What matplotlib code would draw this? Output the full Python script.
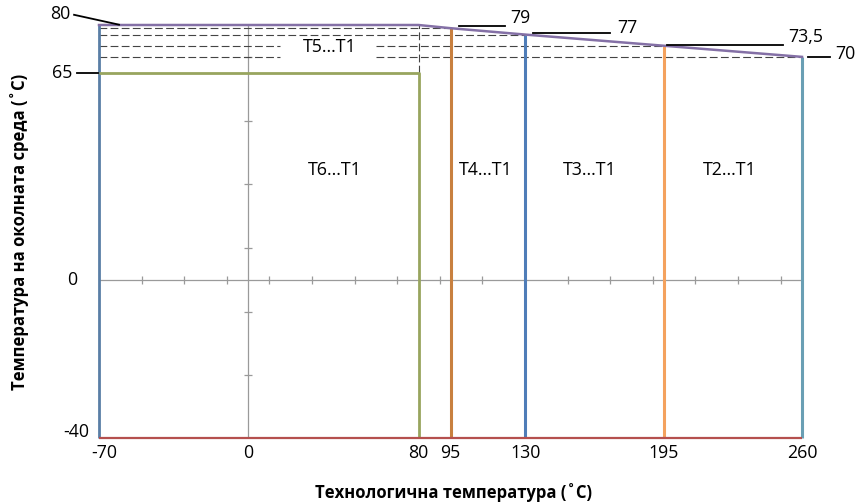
import numpy as np
import matplotlib
matplotlib.use("Agg")
import matplotlib.pyplot as plt

plt.rcParams['font.family'] = ['Open Sans', 'DejaVu Sans']

# ---------------- data ----------------
x_min, x_max = -70, 260          # process temperature range
y_min, y_max = -40, 80           # ambient temperature range
t6_x, t6_top = 80, 65            # T6 zone limits
zone_x = [95, 130, 195, 260]     # process temperature limits of T4, T3, T2 ...
zone_top = [79, 77, 73.5, 70]    # max ambient temperature for each limit
zone_colors = ["#c8803f", "#4f7db8", "#f4a25e", "#6a9fb4"]
slope_x = [-70, 80, 95, 130, 195, 260]
slope_y = [80, 80, 79, 77, 73.5, 70]
x_tick_values = [-70, 0, 80, 95, 130, 195, 260]
x_tick_labels = ["-70", "0", "80", "95", "130", "195", "260"]
grid_x_ticks = [-50, -30, -10, 10, 30, 50, 70, 90, 110, 150, 170, 190, 210, 230, 250]
grid_y_ticks = [70, 50, 30, 10, -8, -24]
value_labels = ["79", "77", "73,5", "70"]
zone_names = ["T6...T1", "T5...T1", "T4...T1", "T3...T1", "T2...T1"]

# piecewise vertical scale: negative range is stretched
K = 1.239
def fwd(y):
    y = np.asarray(y, dtype=float)
    return np.where(y < 0, y * K, y)
def inv(y):
    y = np.asarray(y, dtype=float)
    return np.where(y < 0, y / K, y)

fig = plt.figure(figsize=(8.64, 5.04), dpi=100)
W, H = 864, 504
ax = fig.add_axes([99 / W, (H - 438) / H, (802 - 99) / W, (438 - 25) / H])
ax.set_yscale('function', functions=(fwd, inv))
ax.set_xlim(x_min, x_max)
ax.set_ylim(y_min, y_max)
for s in ax.spines.values():
    s.set_visible(False)
fs = 12.8
ax.set_yticks([])
ax.set_xticks(x_tick_values)
ax.set_xticklabels(x_tick_labels, fontsize=fs)
ax.tick_params(axis='x', length=0, pad=4)
ax.yaxis.set_minor_locator(matplotlib.ticker.NullLocator())
ax.xaxis.set_minor_locator(matplotlib.ticker.NullLocator())
# the leftmost label sits slightly right of its line in the original
lbl0 = ax.get_xticklabels()[0]
lbl0.set_transform(lbl0.get_transform() + matplotlib.transforms.ScaledTranslation(5 / 100, 0, fig.dpi_scale_trans))

gray = "#9a9a9a"
kw = dict(clip_on=False, solid_capstyle='butt')
# crosshair axes
ax.plot([x_min, x_max], [0, 0], color=gray, lw=0.9, zorder=1, **kw)
ax.plot([0, 0], [y_min, y_max], color=gray, lw=0.9, zorder=1, **kw)
ax.plot(grid_x_ticks, [0] * len(grid_x_ticks), ls='none', marker='|',
        ms=6, mew=0.9, color=gray, zorder=1, clip_on=False)
ax.plot([0] * len(grid_y_ticks), grid_y_ticks, ls='none', marker='_',
        ms=6, mew=0.9, color=gray, zorder=1, clip_on=False)

# dashed guide lines
dkw = dict(color="#444444", lw=0.8, ls=(0, (7, 3)), zorder=2, clip_on=False)
gap_l, gap_r = 15, 60
ax.plot([x_min, zone_x[0]], [zone_top[0]] * 2, **dkw)
ax.plot([x_min, zone_x[1]], [zone_top[1]] * 2, **dkw)
for xe, yv in zip(zone_x[2:], zone_top[2:]):
    ax.plot([x_min, gap_l], [yv, yv], **dkw)
    ax.plot([gap_r, xe], [yv, yv], **dkw)
ax.plot([t6_x, t6_x], [t6_top, y_max], **dkw)

# coloured limits
ax.plot([x_min, x_min], [y_min, y_max], color="#5a7ea6", lw=2.0, zorder=4, **kw)
ax.plot([x_min, t6_x, t6_x], [t6_top, t6_top, y_min], color="#98a55e", lw=2.0, zorder=4, **kw)
for xv, yt, c in zip(zone_x, zone_top, zone_colors):
    ax.plot([xv, xv], [y_min, yt], color=c, lw=2.2, zorder=4, **kw)
ax.plot([x_min, x_max], [y_min, y_min], color="#b5504e", lw=1.6, zorder=5, **kw)
ax.plot(slope_x, slope_y, color="#8470a6", lw=1.8, zorder=5, clip_on=False)

# annotations
lk = dict(color="black", lw=1.3, clip_on=False, zorder=6)
ax.plot([-81.7, -60.6], [83.2, 80.1], **lk)
ax.text(-88.3, 83.3, str(y_max), ha='center', va='center', fontsize=fs)
ax.plot([-80.3, -70.5], [t6_top, t6_top], **lk)
ax.text(-87.4, t6_top, str(t6_top), ha='center', va='center', fontsize=fs)
ax.text(-82.7, 0, "0", ha='center', va='center', fontsize=fs)
ax.text(-80.8, -38.4, str(y_min), ha='center', va='center', fontsize=fs)

lead = [(99, 120.6, 79.6), (133.7, 169.9, 77.4), (196.6, 251.1, 73.8), (262.8, 273.1, 70.1)]
txt = [(127.6, 82.3), (177.9, 79.2), (261.9, 76.1), (280.2, 71.0)]
for (x0, x1, yy), (tx, ty), lab in zip(lead, txt, value_labels):
    ax.plot([x0, x1], [yy, yy], **lk)
    ax.text(tx, ty, lab, ha='center', va='center', fontsize=fs)

zone_pos = [(40.8, 34.4), (38.4, 73.0), (111.7, 34.4), (160.5, 34.4), (226.2, 34.4)]
for (zx, zy), name in zip(zone_pos, zone_names):
    ax.text(zx, zy, name, ha='center', va='center', fontsize=fs)

fig.text(454 / W, 1 - 493 / H, "Технологична температура (˚C)", ha='center', va='center',
         fontsize=12, fontweight='bold')
fig.text(20 / W, 1 - 232 / H, "Температура на околната среда (˚C)", ha='center', va='center',
         fontsize=12, fontweight='bold', rotation=90)

fig.savefig("out.png", dpi=100)
